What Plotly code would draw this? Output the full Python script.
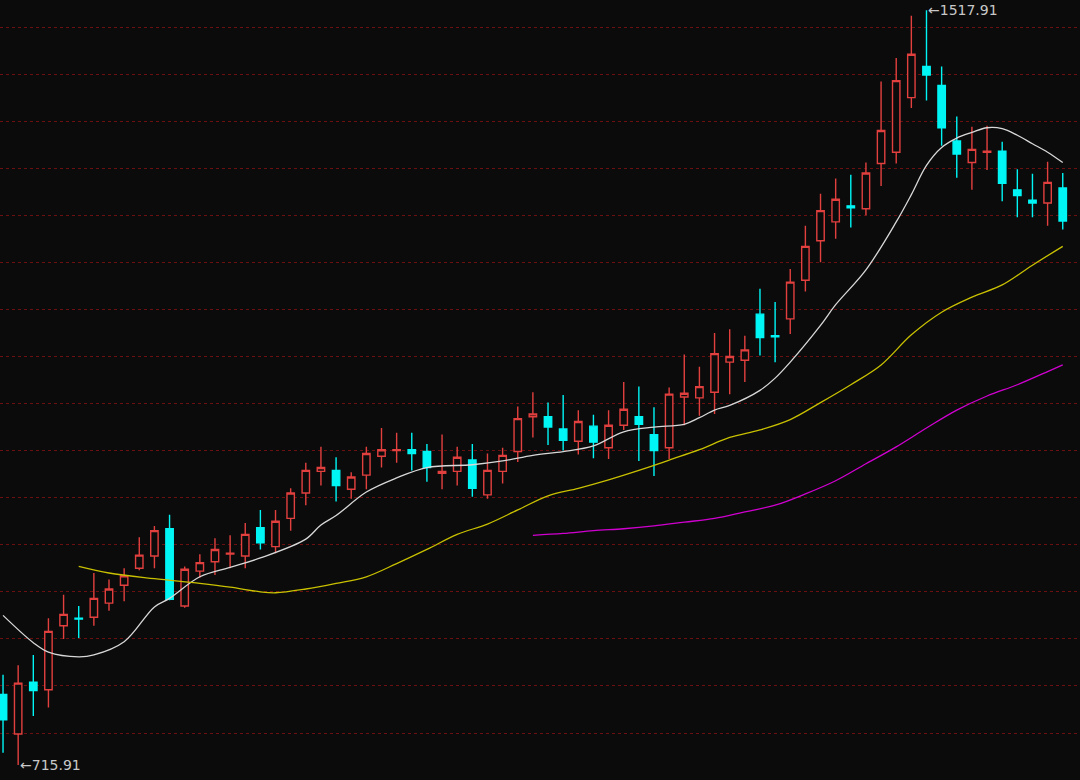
import plotly.graph_objects as go

opens  = [791,749,804,796,864,872,873,888,907,925,938,967,885,922,932,940,938,968,948,978,1005,1028,1029,1009,1024,1044,1050,1051,1049,1026,1028,1040,1003,1028,1049,1086,1086,1073,1060,1076,1053,1077,1086,1067,1053,1107,1106,1112,1144,1146,1195,1172,1190,1231,1273,1293,1310,1307,1355,1367,1425,1458,1438,1379,1356,1367,1368,1327,1316,1313,1329]
highs  = [812,822,833,872,897,885,920,913,925,958,970,982,927,940,957,960,973,987,987,1010,1037,1054,1043,1027,1054,1074,1069,1069,1057,1067,1054,1057,1047,1053,1097,1112,1101,1109,1093,1088,1093,1123,1118,1096,1117,1152,1139,1175,1179,1172,1222,1208,1243,1289,1323,1339,1343,1356,1442,1467,1512,1517.91,1458,1405,1394,1395,1378,1349,1344,1357,1345]
lows   = [729,715.91,768,777,850,851,864,880,890,923,925,891,883,915,918,925,925,945,941,965,992,1013,996,999,1009,1032,1037,1029,1017,1009,1013,1001,999,1015,1038,1064,1056,1050,1046,1042,1041,1072,1039,1023,1041,1077,1087,1089,1110,1123,1151,1144,1174,1219,1250,1275,1287,1300,1331,1355,1414,1422,1374,1340,1327,1348,1315,1298,1298,1289,1285]
closes = [764,803,795,858,876,871,893,903,917,939,965,892,924,931,945,941,961,952,975,1005,1029,1032,1013,1022,1047,1051,1051,1047,1032,1028,1043,1010,1029,1045,1084,1089,1075,1061,1081,1059,1077,1094,1078,1050,1110,1111,1118,1153,1150,1157,1170,1171,1229,1267,1305,1317,1308,1345,1390,1443,1471,1449,1393,1365,1370,1368,1334,1321,1313,1335,1294]
idx = list(range(len(opens)))

ma_w_x = [0,2,3,5,6,8,10,11,13,15,17,20,21,22,24,26,28,31,33,35,37,39,41,43,45,46,47,48,50,51,52,54,55,57,59,60,61,62,63,64,65,66,67,68,69,70]
ma_w_y = [875,846,836,831,833,847,884,893,916,926,936,956,971,981,1006,1021,1032,1035,1039,1045,1049,1055,1070,1075,1078,1085,1093,1098,1114,1127,1144,1183,1205,1242,1293,1322,1353,1372,1382,1388,1393,1392,1385,1376,1367,1356]
ma_y_x = [5,7,10,13,15,17,18,20,22,24,26,28,30,32,34,36,38,40,42,44,46,48,50,52,54,56,58,60,62,64,66,68,70]
ma_y_y = [927,920,914,909,905,900,899,903,909,916,930,945,961,972,987,1002,1010,1019,1029,1040,1051,1064,1072,1083,1101,1120,1141,1173,1197,1213,1226,1247,1267]
ma_m_x = [35,37,39,41,43,45,47,49,51,53,55,57,59,61,63,65,67,69,70]
ma_m_y = [960,962,965,967,970,974,978,985,992,1004,1018,1036,1054,1074,1093,1108,1120,1134,1141]

BG = "#0b0b0b"
fig = go.Figure()
fig.add_trace(go.Candlestick(
    x=idx, open=opens, high=highs, low=lows, close=closes,
    increasing=dict(line=dict(color="#e2403f", width=1.4), fillcolor=BG),
    decreasing=dict(line=dict(color="#00f5f5", width=1.4), fillcolor="#00f5f5"),
    whiskerwidth=0, showlegend=False, hoverinfo="skip"))
fig.add_trace(go.Scatter(x=ma_w_x, y=ma_w_y, mode="lines", line=dict(color="#d8d8d8", width=1.3, shape="spline"), showlegend=False))
fig.add_trace(go.Scatter(x=ma_y_x, y=ma_y_y, mode="lines", line=dict(color="#c8c000", width=1.3, shape="spline"), showlegend=False))
fig.add_trace(go.Scatter(x=ma_m_x, y=ma_m_y, mode="lines", line=dict(color="#d000d0", width=1.3, shape="spline"), showlegend=False))

fig.add_annotation(x=1, y=715.91, text="←715.91", showarrow=False, xanchor="left", yanchor="middle",
                   font=dict(color="#c8c8c8", size=14, family="DejaVu Sans"))
fig.add_annotation(x=61, y=1517.91, text="←1517.91", showarrow=False, xanchor="left", yanchor="middle",
                   font=dict(color="#c8c8c8", size=14, family="DejaVu Sans"))
for xp, txt, col in [(0.0, "MA30: 1141.35", "#e000e0"), (0.28, "MA60: 1267.40", "#00d000"), (0.46, "MA240: 968.52", "#d0d0d0")]:
    fig.add_annotation(xref="paper", yref="paper", x=xp, y=1.0, yshift=4, text=txt, showarrow=False,
                       xanchor="left", yanchor="middle", font=dict(color=col, size=12, family="DejaVu Sans"))

fig.update_layout(
    width=1080, height=780, margin=dict(l=0, r=0, t=0, b=0),
    paper_bgcolor=BG, plot_bgcolor=BG,
    xaxis=dict(range=[-0.2, 71.14], showgrid=False, zeroline=False, showticklabels=False,
               rangeslider=dict(visible=False), fixedrange=True),
    yaxis=dict(range=[700.1, 1528.7], showgrid=True, gridcolor="#6a1010", griddash="dot", gridwidth=1,
               tick0=750, dtick=50, zeroline=False, showticklabels=False, fixedrange=True),
)
fig.write_html("out.html", config={"displayModeBar": False, "staticPlot": True})
with open("out.html", encoding="utf-8") as f:
    html = f.read()
html = html.replace("<head>", "<head><style>html,body{margin:0;padding:0;background:#0b0b0b;overflow:hidden}</style>", 1)
with open("out.html", "w", encoding="utf-8") as f:
    f.write(html)
